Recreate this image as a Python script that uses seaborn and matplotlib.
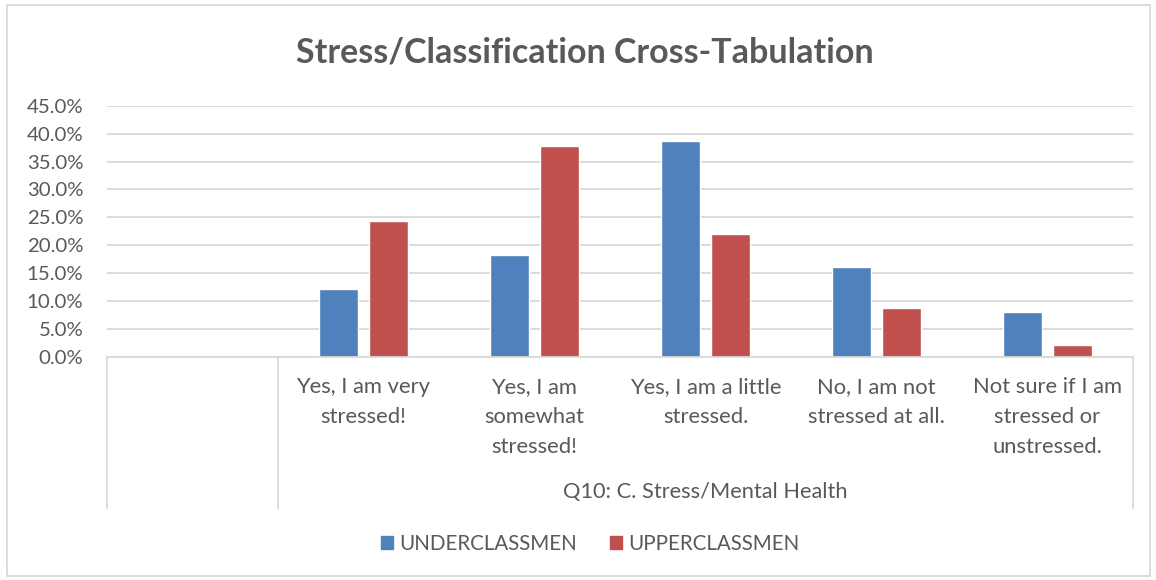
import seaborn as sns
import matplotlib.pyplot as plt
import pandas as pd
from matplotlib.ticker import PercentFormatter, MultipleLocator
from matplotlib.patches import Rectangle
import matplotlib.transforms as mtransforms

# values (fractions)
categories = ["Yes, I am very\nstressed!", "Yes, I am\nsomewhat\nstressed!",
              "Yes, I am a little\nstressed.", "No, I am not\nstressed at all.",
              "Not sure if I am\nstressed or\nunstressed."]
underclassmen = [0.121, 0.183, 0.387, 0.162, 0.081]
upperclassmen = [0.243, 0.377, 0.221, 0.088, 0.021]
groups = ["UNDERCLASSMEN", "UPPERCLASSMEN"]
group_label = "Q10: C. Stress/Mental Health"
title = "Stress/Classification Cross-Tabulation"

BLUE = "#4F81BD"
RED = "#C0504D"
GREY_TXT = "#595959"
GRID = "#D9D9D9"

df = pd.DataFrame({
    "category": categories * 2,
    "value": underclassmen + upperclassmen,
    "group": [groups[0]] * 5 + [groups[1]] * 5,
})

sns.set_style("white")
plt.rcParams["font.family"] = ["Lato", "DejaVu Sans"]

W, H = 1156, 580
fig = plt.figure(figsize=(W / 100, H / 100), dpi=100)
x0, x1, y0, y1 = 107, 1133, 357, 105.7
ax = fig.add_axes([x0 / W, 1 - y0 / H, (x1 - x0) / W, (y0 - y1) / H])

sns.barplot(data=df, x="category", y="value", hue="group", order=categories,
            palette=[BLUE, RED], width=0.579, gap=0.211, ax=ax, legend=False,
            saturation=1)

ax.set_xlim(-1.5, 4.5)
ax.set_ylim(0, 0.45)
ax.yaxis.set_major_locator(MultipleLocator(0.05))
ax.yaxis.set_major_formatter(PercentFormatter(1, decimals=1))
ax.grid(axis="y", color=GRID, linewidth=1.3)
ax.set_axisbelow(True)
for s in ["left", "right", "top"]:
    ax.spines[s].set_visible(False)
ax.spines["bottom"].set_color(GRID)
ax.spines["bottom"].set_linewidth(1.3)
ax.tick_params(axis="y", length=0, labelsize=14.7, labelcolor=GREY_TXT, pad=17)
ax.tick_params(axis="x", length=0)
ax.set_xticks([])
ax.set_xlabel("")
ax.set_ylabel("")

# multi-level category axis
trans = mtransforms.blended_transform_factory(ax.transData, ax.transAxes)
bottom = (y0 - 508) / (y0 - y1)
for xv in [-1.5, -0.5, 4.5]:
    ax.plot([xv, xv], [0, bottom], color=GRID, lw=1.3, transform=trans,
            clip_on=False)
label_top = (y0 - 377) / (y0 - y1)
for i, c in enumerate(categories):
    ax.text(i, label_top, c, transform=trans, ha="center", va="top",
            fontsize=15.8, color=GREY_TXT, linespacing=1.62)
ax.text(2, (y0 - 492) / (y0 - y1), group_label, transform=trans,
        ha="center", va="center", fontsize=15.7, color=GREY_TXT)

fig.suptitle(title, x=585 / W, y=1 - 52 / H, va="center", fontsize=24.5,
             fontweight="bold", color=GREY_TXT)

handles = [Rectangle((0, 0), 1, 1, color=BLUE), Rectangle((0, 0), 1, 1, color=RED)]
fig.legend(handles, groups, loc="center", bbox_to_anchor=(590 / W, 1 - 544 / H),
           ncol=2, frameon=False, fontsize=14.8, labelcolor=GREY_TXT,
           handlelength=0.6, handleheight=0.6, handletextpad=0.3,
           columnspacing=1.6)

fig.patches.append(Rectangle((7 / W, 4 / H), 1143 / W, 571 / H, fill=False,
                             edgecolor=GRID, lw=1.3, transform=fig.transFigure))

fig.savefig("out.png", dpi=100)
